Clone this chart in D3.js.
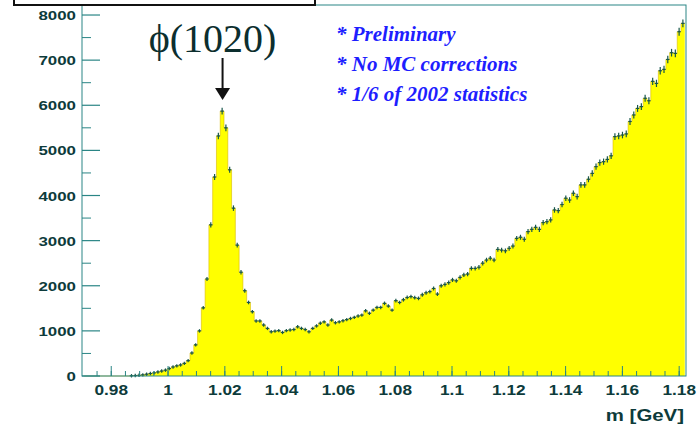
<!DOCTYPE html>
<head>
  <meta charset="utf-8">
  <script src="https://d3js.org/d3.v7.min.js"></script>
  <style>
    body { margin:0; background-color: #ffffff; }
    svg { display:block; }
    .lab { font-family: "Liberation Sans", Arial, sans-serif; font-weight: bold; fill: #0d3b3b; }
    .note { font-family: "Liberation Serif", "Times New Roman", serif; font-weight: bold; font-style: italic; fill: #1e1eff; font-size: 21px; }
  </style>
</head>
<body>
<div class="chart-container"></div>
<script>
// histogram: first bin edge, bin width, entries per bin
var binStart = 0.9705;
var binWidth = 0.00133;
var counts = [
  0,0,0,0,0,0,0,0,0,0,
  0,0,5,10,15,25,40,55,70,90,
  110,130,165,200,225,245,280,340,510,690,
  1000,1510,2150,3350,4410,5320,5870,5500,4570,3720,
  2900,2300,1890,1630,1425,1220,1220,1130,1055,980,
  995,1005,965,1005,1020,1030,1090,1055,1030,980,
  1055,1110,1170,1200,1130,1240,1180,1200,1225,1250,
  1275,1300,1330,1350,1445,1390,1460,1520,1520,1610,
  1550,1460,1670,1630,1690,1740,1760,1735,1720,1800,
  1845,1870,1940,1815,2000,2030,2070,2130,2110,2185,
  2240,2260,2385,2385,2410,2500,2570,2610,2570,2805,
  2790,2775,2830,2880,3050,3075,3030,3200,3250,3295,
  3250,3400,3420,3460,3680,3665,3800,3940,3900,4050,
  3975,4235,4235,4360,4490,4640,4730,4750,4800,4880,
  5305,5320,5340,5365,5640,5785,5930,5970,6155,6100,
  6530,6485,6765,6795,7015,7165,7150,7630,7815
];

var xTicks = [0.98, 1, 1.02, 1.04, 1.06, 1.08, 1.1, 1.12, 1.14, 1.16, 1.18];
var xMinor = d3.range(0.975, 1.1826, 0.005);
var yTicks = [0, 1000, 2000, 3000, 4000, 5000, 6000, 7000, 8000];
var yMinor = d3.range(500, 8001, 1000);
var notes = ["* Preliminary", "* No MC corrections", "* 1/6 of 2002 statistics"];
var peakLabel = "\u03d5(1020)";
var peakMass = 1.0192;
var xTitle = "m [GeV]";

var axisCol = "#2a8585";

var svg = d3.select(".chart-container").append("svg")
  .attr("width", 697)
  .attr("height", 430);

var x = d3.scaleLinear().domain([0.9697, 1.1824]).range([82, 686]);
var y = d3.scaleLinear().domain([0, 8222]).range([376, 5]);

var bins = counts.map(function(c, i) {
  return { lo: binStart + i * binWidth, hi: binStart + (i + 1) * binWidth, n: c };
});

// step outline points
var steps = [];
bins.forEach(function(b) {
  steps.push([b.lo, b.n]);
  steps.push([b.hi, b.n]);
});

var area = d3.area()
  .x(function(d) { return x(d[0]); })
  .y0(y(0))
  .y1(function(d) { return y(d[1]); });

var line = d3.line()
  .x(function(d) { return x(d[0]); })
  .y(function(d) { return y(d[1]); });

svg.append("path")
  .datum(steps)
  .attr("d", area)
  .attr("fill", "#ffff00");

svg.append("path")
  .datum(steps)
  .attr("d", line)
  .attr("fill", "none")
  .attr("stroke", "#d9b800")
  .attr("stroke-width", 0.6);

// error-bar markers
var marks = svg.append("g")
  .attr("stroke", "#17564b")
  .attr("stroke-width", 1.2);

bins.filter(function(b) { return b.n > 0; }).forEach(function(b) {
  var cx = x((b.lo + b.hi) / 2);
  var cy = y(b.n);
  var e = Math.max(1.7, y(0) - y(Math.sqrt(b.n)));
  marks.append("line").attr("x1", cx - 1.7).attr("x2", cx + 1.7).attr("y1", cy).attr("y2", cy);
  marks.append("line").attr("x1", cx).attr("x2", cx).attr("y1", cy - e).attr("y2", cy + e);
});

// frame
svg.append("rect")
  .attr("x", x.range()[0]).attr("y", y.range()[1])
  .attr("width", x.range()[1] - x.range()[0])
  .attr("height", y.range()[0] - y.range()[1])
  .attr("fill", "none")
  .attr("stroke", axisCol)
  .attr("stroke-width", 1);

// x ticks
svg.append("g").selectAll("line.minor")
  .data(xMinor).enter().append("line")
  .attr("x1", function(d) { return x(d); }).attr("x2", function(d) { return x(d); })
  .attr("y1", y(0)).attr("y2", y(0) - 5)
  .attr("stroke", axisCol);
svg.append("g").selectAll("line")
  .data(xTicks).enter().append("line")
  .attr("x1", function(d) { return x(d); }).attr("x2", function(d) { return x(d); })
  .attr("y1", y(0)).attr("y2", y(0) - 10)
  .attr("stroke", axisCol);
svg.append("g").selectAll("text")
  .data(xTicks).enter().append("text")
  .attr("class", "lab")
  .attr("text-anchor", "middle")
  .attr("font-size", 15)
  .attr("transform", function(d) { return "translate(" + x(d) + ",395) scale(1.15,1)"; })
  .text(function(d) { return d3.format("")(d); });

// y ticks
svg.append("g").selectAll("line")
  .data(yMinor).enter().append("line")
  .attr("x1", x.range()[0]).attr("x2", x.range()[0] + 9)
  .attr("y1", function(d) { return y(d); }).attr("y2", function(d) { return y(d); })
  .attr("stroke", axisCol);
svg.append("g").selectAll("line")
  .data(yTicks).enter().append("line")
  .attr("x1", x.range()[0]).attr("x2", x.range()[0] + 18)
  .attr("y1", function(d) { return y(d); }).attr("y2", function(d) { return y(d); })
  .attr("stroke", axisCol)
  .attr("stroke-width", 1.2);
svg.append("g").selectAll("text")
  .data(yTicks).enter().append("text")
  .attr("class", "lab")
  .attr("text-anchor", "end")
  .attr("font-size", 13.5)
  .attr("transform", function(d) { return "translate(76," + (y(d) + 5) + ") scale(1.25,1)"; })
  .text(function(d) { return d; });

svg.append("text")
  .attr("class", "lab")
  .attr("text-anchor", "end")
  .attr("font-size", 17)
  .attr("transform", "translate(684,421) scale(1.2,1)")
  .text(xTitle);

// title box peeking in at the top
svg.append("rect")
  .attr("x", 14).attr("y", -10).attr("width", 301).attr("height", 15)
  .attr("fill", "#ffffff")
  .attr("stroke", "#111111")
  .attr("stroke-width", 2);

// phi label and arrow
var px = x(peakMass);
svg.append("text")
  .attr("x", px - 10).attr("y", 52)
  .attr("text-anchor", "middle")
  .attr("font-family", "'Liberation Serif', 'Times New Roman', serif")
  .attr("font-size", 40)
  .attr("fill", "#0c2e2e")
  .text(peakLabel);
svg.append("line")
  .attr("x1", px).attr("x2", px).attr("y1", 58).attr("y2", 90)
  .attr("stroke", "#111111").attr("stroke-width", 2);
svg.append("path")
  .attr("d", "M" + (px - 7.5) + ",88 L" + (px + 7.5) + ",88 L" + px + ",100 Z")
  .attr("fill", "#111111");

svg.append("g").selectAll("text")
  .data(notes).enter().append("text")
  .attr("class", "note")
  .attr("x", 336)
  .attr("y", function(d, i) { return 41 + i * 30; })
  .text(function(d) { return d; });
</script>
</body>
